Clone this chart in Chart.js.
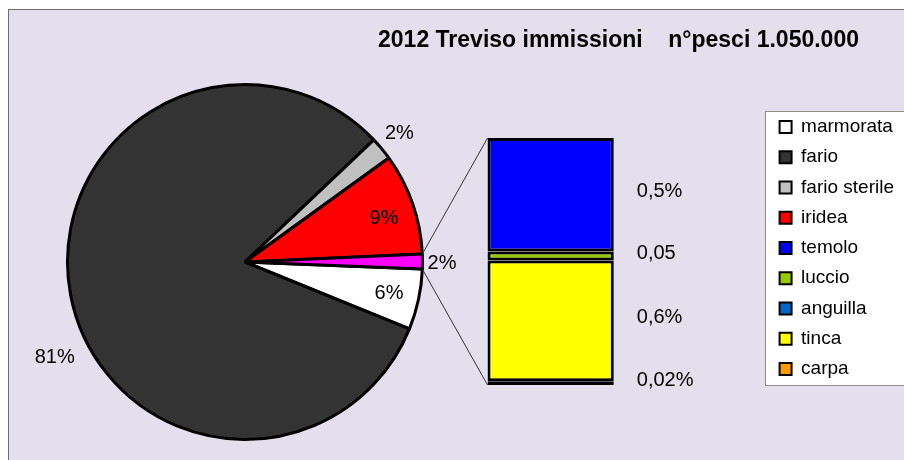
<!DOCTYPE html>
<html>
<head>
<meta charset="utf-8">
<script src="https://cdn.jsdelivr.net/npm/chart.js@4"></script>
<style>
  body { margin: 0; background: #fff; }
  #wrap { position: relative; width: 904px; height: 460px; overflow: hidden; }
  #frame { position: absolute; left: 8px; top: 9px; width: 900px; height: 460px;
           background: #E4DFEC; border-left: 1px solid #6e6e6e; border-top: 1px solid #6e6e6e; }
  canvas { position: absolute; left: 0; top: 0; }
</style>
</head>
<body>
<div id="wrap">
  <div id="frame"></div>
  <canvas id="pie" width="904" height="460"></canvas>
  <canvas id="bar" width="904" height="460"></canvas>
</div>
<script>
// pie: main species (last slice = sum of the bar below)
const pieNames = ['marmorata', 'fario', 'fario sterile', 'iridea'];
const pieValues = [5.5, 81.7, 2.1, 9.25];
const pieLabels = ['6%', '81%', '2%', '9%', '2%'];
const pieColors = ['#FFFFFF', '#333333', '#C0C0C0', '#FF0000', '#FF00FF'];

// bar: the small "other" slice split up (top to bottom)
const barNames = ['temolo', 'luccio', 'anguilla', 'tinca', 'carpa'];
const barValues = [0.62, 0.05, 0, 0.66, 0.02];
const barLabels = ['0,5%', '0,05', '', '0,6%', '0,02%'];
const barColors = ['#0000FF', '#99CC00', '#0066CC', '#FFFF00', '#FF9900'];

const titleText = '2012 Treviso immissioni    n°pesci 1.050.000';

// label placement for pie slices (radius factor, angle shift in degrees)
const pieLabelPos = [{r: 0.83, a: 0}, {r: 1.2, a: -16}, {r: 1.13, a: 0}, {r: 0.82, a: 2}, {r: 1.11, a: 0.5}];

Chart.defaults.font.family = '"Liberation Sans", Arial, sans-serif';
Chart.defaults.color = '#000';

const barTotal = barValues.reduce((a, b) => a + b, 0);
const pieData = pieValues.concat([barTotal]);

const pieLabelPlugin = {
  id: 'pieLabels',
  afterDatasetsDraw(chart) {
    const ctx = chart.ctx;
    const arcs = chart.getDatasetMeta(0).data;
    ctx.save();
    ctx.font = '20px "Liberation Sans", Arial, sans-serif';
    ctx.fillStyle = '#000';
    ctx.textAlign = 'center';
    ctx.textBaseline = 'middle';
    arcs.forEach((arc, i) => {
      const p = arc.getProps(['x', 'y', 'startAngle', 'endAngle', 'outerRadius']);
      const a = (p.startAngle + p.endAngle) / 2 + pieLabelPos[i].a * Math.PI / 180;
      const r = p.outerRadius * pieLabelPos[i].r;
      ctx.fillText(pieLabels[i], p.x + Math.cos(a) * r, p.y + Math.sin(a) * r);
    });
    ctx.restore();
  }
};

const pieChart = new Chart(document.getElementById('pie'), {
  type: 'pie',
  data: {
    labels: pieNames.concat(['altri']),
    datasets: [{
      data: pieData,
      backgroundColor: pieColors,
      borderColor: '#000',
      borderWidth: 3,
      hoverOffset: 0
    }]
  },
  options: {
    responsive: false,
    animation: false,
    rotation: 92.3,
    layout: { padding: { left: 66, top: 83, right: 480, bottom: 19 } },
    plugins: { legend: { display: false }, title: { display: false }, tooltip: { enabled: false } }
  },
  plugins: [pieLabelPlugin]
});

// stack from bottom: carpa first
const barDatasets = [];
for (let i = barNames.length - 1; i >= 0; i--) {
  barDatasets.push({
    label: barNames[i],
    data: [barValues[i]],
    backgroundColor: barColors[i],
    borderColor: '#000',
    borderWidth: 3,
    borderSkipped: false,
    barPercentage: 0.29,
    categoryPercentage: 1
  });
}

const legendNames = pieNames.concat(barNames);
const legendColors = pieColors.slice(0, 4).concat(barColors);

const barExtras = {
  id: 'barExtras',
  beforeDraw(chart) {
    // white legend box
    const lg = chart.legend;
    const boxes = lg.legendHitBoxes;
    const ctx = chart.ctx;
    const top = boxes[0].top - 6.5;
    const bottom = boxes[boxes.length - 1].top + boxes[boxes.length - 1].height + 6.5;
    ctx.save();
    ctx.fillStyle = '#fff';
    ctx.strokeStyle = '#8c8c8c';
    ctx.lineWidth = 1;
    ctx.fillRect(lg.left - 3, top, 200, bottom - top);
    ctx.strokeRect(Math.round(lg.left - 3) + 0.5, Math.round(top) + 0.5, 200, Math.round(bottom - top));
    ctx.restore();
  },
  beforeDatasetsDraw(chart) {
    // lines from the small pie slice to the bar
    const ctx = chart.ctx;
    const arc = pieChart.getDatasetMeta(0).data[pieData.length - 1];
    const p = arc.getProps(['x', 'y', 'startAngle', 'endAngle', 'outerRadius']);
    const el = chart.getDatasetMeta(0).data[0];
    const left = el.x - el.width / 2;
    const yTop = chart.scales.y.getPixelForValue(barTotal);
    const yBot = chart.scales.y.getPixelForValue(0);
    ctx.save();
    ctx.strokeStyle = '#333';
    ctx.lineWidth = 1;
    ctx.beginPath();
    ctx.moveTo(p.x + Math.cos(p.startAngle) * p.outerRadius, p.y + Math.sin(p.startAngle) * p.outerRadius);
    ctx.lineTo(left, yTop);
    ctx.moveTo(p.x + Math.cos(p.endAngle) * p.outerRadius, p.y + Math.sin(p.endAngle) * p.outerRadius);
    ctx.lineTo(left, yBot);
    ctx.stroke();
    ctx.restore();
  },
  afterDatasetsDraw(chart) {
    const ctx = chart.ctx;
    ctx.save();
    ctx.font = '20px "Liberation Sans", Arial, sans-serif';
    ctx.fillStyle = '#000';
    ctx.textAlign = 'left';
    ctx.textBaseline = 'middle';
    chart.data.datasets.forEach((ds, d) => {
      const idx = barNames.indexOf(ds.label);
      if (!barLabels[idx]) return;
      const el = chart.getDatasetMeta(d).data[0];
      ctx.fillText(barLabels[idx], el.x + el.width / 2 + 23, (el.y + el.base) / 2 - 3);
    });
    ctx.restore();
  }
};

const barChart = new Chart(document.getElementById('bar'), {
  type: 'bar',
  data: { labels: [''], datasets: barDatasets },
  options: {
    responsive: false,
    animation: false,
    layout: { padding: { left: 333, top: 0, right: 0, bottom: 70.25 } },
    scales: {
      x: {
        stacked: true,
        display: true,
        grid: { display: false },
        border: { display: false },
        ticks: { display: false },
        afterFit: (scale) => { scale.height = 4.75; }
      },
      y: { stacked: true, display: false, min: 0, max: barTotal }
    },
    plugins: {
      tooltip: { enabled: false },
      title: {
        display: true,
        text: titleText,
        color: '#000',
        font: { size: 23, weight: 'bold' },
        padding: { top: 26.7, bottom: 83.7 }
      },
      legend: {
        position: 'right',
        align: 'end',
        onClick: () => {},
        labels: {
          color: '#000',
          font: { size: 19 },
          boxWidth: 12,
          boxHeight: 12,
          padding: 11.25,
          generateLabels: () => legendNames.map((n, i) => ({
            text: n,
            fillStyle: legendColors[i],
            strokeStyle: '#000',
            lineWidth: 2,
            hidden: false,
            index: i
          }))
        }
      }
    }
  },
  plugins: [barExtras]
});
</script>
</body>
</html>
